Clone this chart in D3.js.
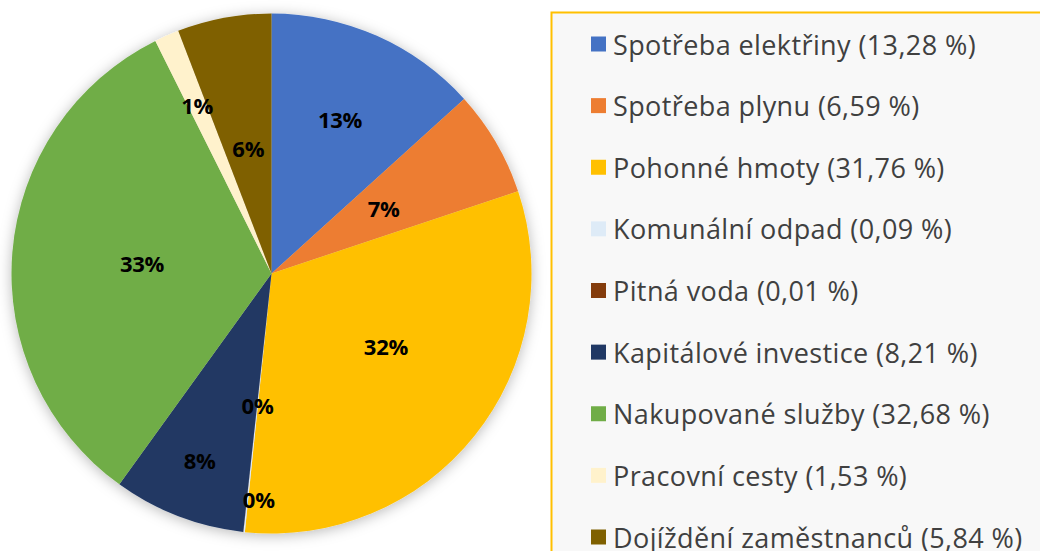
<!DOCTYPE html>
<html><head><meta charset="utf-8">
<script src="https://cdn.jsdelivr.net/npm/d3@7"></script>
<style>
html,body{margin:0;padding:0;background:#fff;}
svg{display:block;}
</style></head>
<body>
<svg id="chart" width="1040" height="551"></svg>
<script>
const categories = ["Spotřeba elektřiny","Spotřeba plynu","Pohonné hmoty","Komunální odpad","Pitná voda","Kapitálové investice","Nakupované služby","Pracovní cesty","Dojíždění zaměstnanců"];
const values = [13.28, 6.59, 31.76, 0.09, 0.01, 8.21, 32.68, 1.53, 5.84];
const dataLabels = ["13%","7%","32%","0%","0%","8%","33%","1%","6%"];
const colors = ["#4472C4","#ED7D31","#FFC000","#DEEBF7","#843C0C","#203864","#70AD47","#FFF2CC","#7F6000"];
// label placement (layout only): radius fraction and angle shift in degrees
const labelRadiusFrac = [0.65, 0.50, 0.52, 0.51, 0.87, 0.77, 0.50, 0.71, 0.49];
const labelAngleShift = [0, 0, -6.5, 0, -3, 0, 0, 0, 0];

const svg = d3.select("#chart");
const cx = 271.5, cy = 273.5, R = 260;

const defs = svg.append("defs");
const f = defs.append("filter").attr("id","sh").attr("x","-20%").attr("y","-20%").attr("width","140%").attr("height","140%");
f.append("feDropShadow").attr("dx",0).attr("dy",2).attr("stdDeviation",7).attr("flood-color","#000").attr("flood-opacity",0.28);

const pie = d3.pie().sort(null).value(d => d)(values);
const arc = d3.arc().innerRadius(0).outerRadius(R);

const g = svg.append("g").attr("transform",`translate(${cx},${cy})`);
const pg = g.append("g").attr("filter","url(#sh)");
pg.selectAll("path").data(pie).join("path")
  .attr("d", arc)
  .attr("fill", (d,i) => colors[i]);

g.selectAll("text.lbl").data(pie).join("text")
  .attr("class","lbl")
  .attr("transform", (d,i) => {
    const r = R * labelRadiusFrac[i];
    const a = (d.startAngle + d.endAngle)/2 + labelAngleShift[i]*Math.PI/180;
    return `translate(${r*Math.sin(a)},${-r*Math.cos(a)})`;
  })
  .attr("text-anchor","middle")
  .attr("dominant-baseline","central")
  .attr("font-family","'Open Sans', sans-serif")
  .attr("font-weight",700)
  .attr("font-size",22)
  .attr("letter-spacing",-0.3)
  .attr("fill","#000")
  .text((d,i) => dataLabels[i]);

// legend
const lg = svg.append("g");
lg.append("rect").attr("x",551.5).attr("y",12.5).attr("width",600).attr("height",600)
  .attr("fill","#F8F8F8").attr("stroke","#FFC000").attr("stroke-width",2);

const rowY = d3.scalePoint().domain(d3.range(categories.length)).range([44, 537]);
const fmtPct = v => "(" + v.toFixed(2).replace(".", ",") + " %)";
const items = lg.selectAll("g.item").data(categories).join("g").attr("class","item")
  .attr("transform",(d,i)=>`translate(0,${rowY(i)})`);
items.append("rect").attr("x",591).attr("y",-7.5).attr("width",15).attr("height",15)
  .attr("fill",(d,i)=>colors[i]);
items.append("text").attr("x",613).attr("y",0)
  .attr("dominant-baseline","central")
  .attr("font-family","'Open Sans', sans-serif")
  .attr("font-size",27)
  .attr("letter-spacing",0.4)
  .attr("fill","#404040")
  .text((d,i)=> d + " " + fmtPct(values[i]));
</script>
</body></html>
